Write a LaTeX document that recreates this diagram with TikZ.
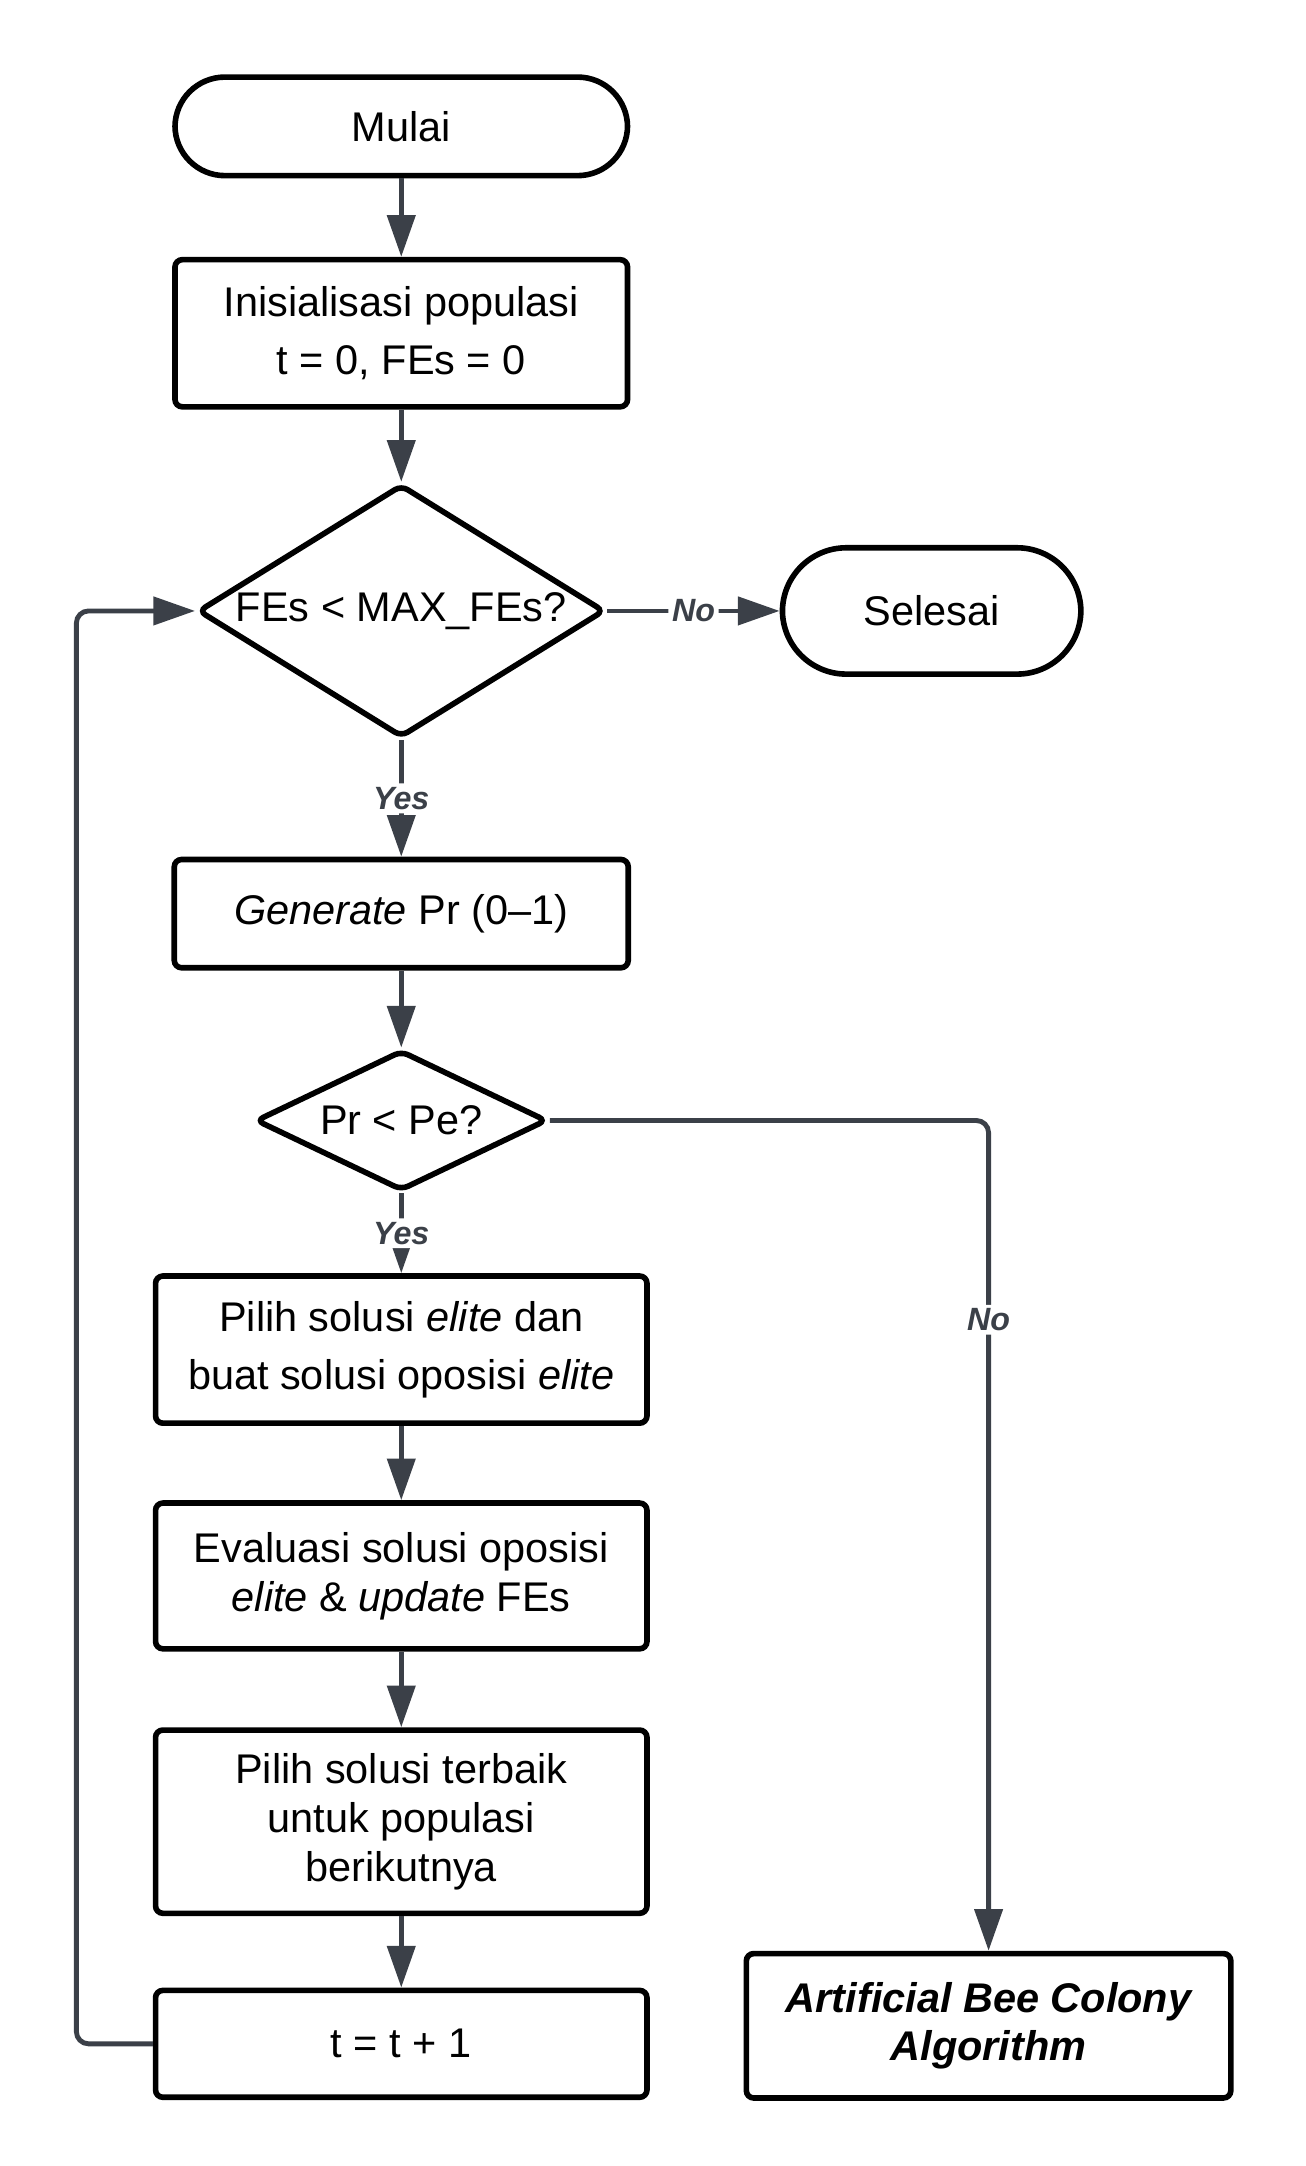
\documentclass[tikz,border=0pt]{standalone}
\usepackage{fontspec}
\setmainfont{Liberation Sans}
\usetikzlibrary{shapes.geometric,arrows.meta}
\definecolor{linegray}{HTML}{3B4048}

\begin{document}
\begin{tikzpicture}[x=0.02cm, y=-0.02cm,
    box/.style={draw, line width=2.3pt, rounded corners=3pt, align=center, inner sep=2pt,
      font=\fontsize{17}{20}\selectfont},
    widebox/.style={box, minimum width=7.08cm},
    decision/.style={diamond, draw, line width=2.3pt, rounded corners=3pt, inner sep=0pt,
      align=center, font=\fontsize{17}{20}\selectfont},
    flow/.style={draw=linegray, line width=2pt, rounded corners=5pt,
      -{Triangle[length=0.6cm, width=0.4cm]}},
    answer/.style={fill=white, text=linegray, inner sep=1.5pt,
      font=\fontsize{13.2}{15}\selectfont\bfseries\itshape}]
    \fill[white] (0,0) rectangle (940,1560);
    \useasboundingbox (0,0) rectangle (940,1560);

    \node[box, rounded corners=0.72cm, minimum width=6.52cm, minimum height=1.42cm] (start) at (289,91) {Mulai};
    \node[box, minimum width=6.52cm, minimum height=2.12cm, font=\fontsize{17}{24}\selectfont] (init) at (289,240) {Inisialisasi populasi\\t = 0, FEs = 0};
    \node[decision, aspect=1.6, minimum width=5.86cm, minimum height=3.64cm] (dec1) at (289,440) {FEs < MAX\_FEs?};
    \node[box, rounded corners=0.92cm, minimum width=4.3cm, minimum height=1.82cm] (stop) at (671,440) {Selesai};
    \node[box, minimum width=6.54cm, minimum height=1.56cm] (gen) at (289,658) {\textit{Generate} Pr (0--1)};
    \node[decision, aspect=2.04, minimum width=4.2cm, minimum height=2.02cm] (dec2) at (289,807) {Pr < Pe?};
    \node[widebox, minimum height=2.12cm, font=\fontsize{17}{24}\selectfont] (elite) at (289,972) {Pilih solusi \textit{elite} dan\\buat solusi oposisi \textit{elite}};
    \node[widebox, minimum height=2.1cm] (eval) at (289,1135) {Evaluasi solusi oposisi\\\textit{elite} \& \textit{update} FEs};
    \node[widebox, minimum height=2.64cm] (best) at (289,1312) {Pilih solusi terbaik\\untuk populasi\\berikutnya};
    \node[widebox, minimum height=1.54cm] (tinc) at (289,1472) {t = t + 1};
    \node[box, minimum width=6.98cm, minimum height=2.08cm, font=\fontsize{17}{20}\selectfont\bfseries\itshape] (abc) at (712,1459) {Artificial Bee Colony\\Algorithm};
    \coordinate (loop) at (55,1472);

    \draw[flow] (start) -- (init);
    \draw[flow] (init) -- (dec1);
    \draw[flow] (dec1) -- node[answer] {No} (stop);
    \draw[flow] (dec1) -- node[answer] {Yes} (gen);
    \draw[flow] (gen) -- (dec2);
    \draw[flow] (dec2) -- node[answer] {Yes} (elite);
    \draw[flow] (dec2) -| node[answer, pos=0.62] {No} (abc);
    \draw[flow] (elite) -- (eval);
    \draw[flow] (eval) -- (best);
    \draw[flow] (best) -- (tinc);
    \draw[flow] (tinc.west) -- (loop) |- (dec1.west);
  \end{tikzpicture}
\end{document}
